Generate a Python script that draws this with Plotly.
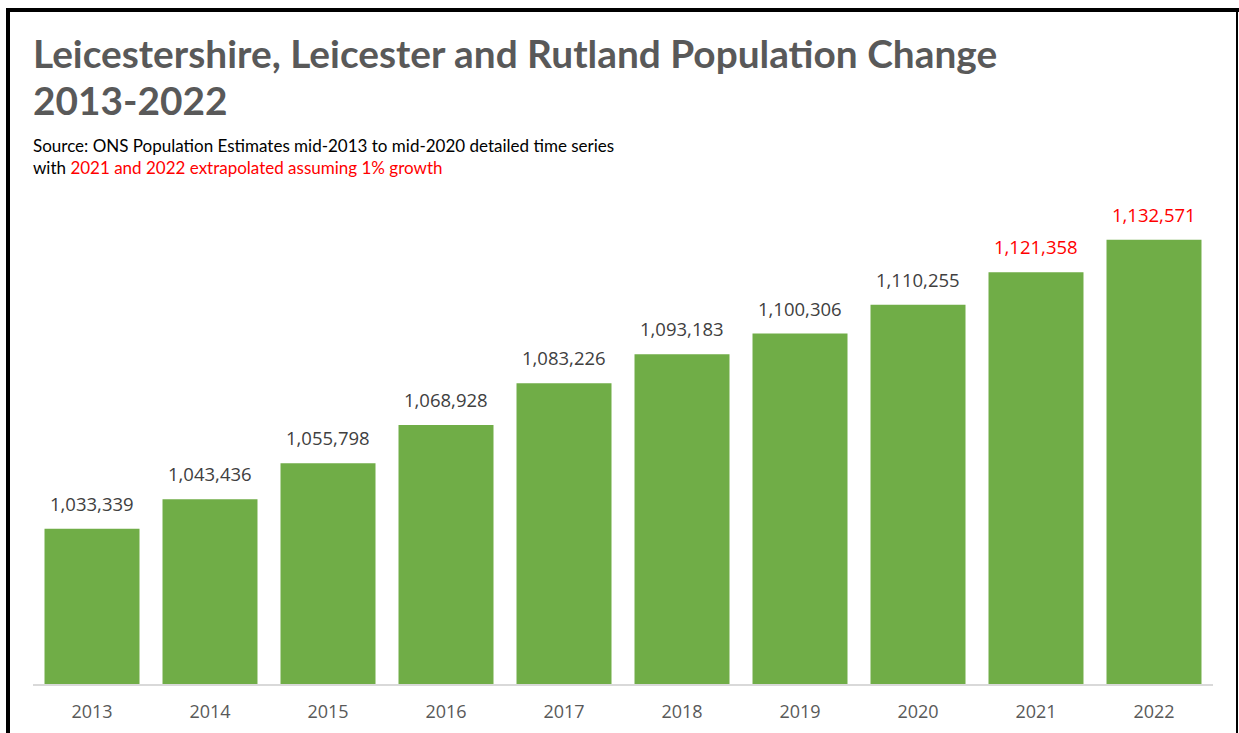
import plotly.graph_objects as go

years = ["2013", "2014", "2015", "2016", "2017", "2018", "2019", "2020", "2021", "2022"]
population = [1033339, 1043436, 1055798, 1068928, 1083226, 1093183, 1100306, 1110255, 1121358, 1132571]
label_colors = ["#404040"] * 8 + ["#FF0000"] * 2

W, H = 1239, 733
x0, x1 = 33, 1213
y_base, y_top = 684, 218

fig = go.Figure()
fig.add_trace(go.Bar(
    x=years, y=population,
    marker=dict(color="#70AD47", line=dict(width=0)),
    hoverinfo="x+y",
))

for i, (v, c) in enumerate(zip(population, label_colors)):
    fig.add_annotation(
        x=i, y=v, text=f"{v:,}", showarrow=False,
        yanchor="bottom", yshift=11,
        font=dict(family="Open Sans", size=18.5, color=c),
    )

# Title (two lines) and subtitle
title_font = dict(family="Lato", size=38.8, color="#595959", weight="bold")
fig.add_annotation(
    xref="paper", yref="paper", x=31 / W, y=1 - 28 / H, xanchor="left", yanchor="top",
    text="Leicestershire, Leicester and Rutland Population Change",
    showarrow=False, align="left", font=title_font,
)
fig.add_annotation(
    xref="paper", yref="paper", x=31 / W, y=1 - 75 / H, xanchor="left", yanchor="top",
    text="2013-2022",
    showarrow=False, align="left", font=title_font,
)
fig.add_annotation(
    xref="paper", yref="paper", x=31 / W, y=1 - 133 / H, xanchor="left", yanchor="top",
    text="Source: ONS Population Estimates mid-2013 to mid-2020 detailed time series<br>"
         "with <span style='color:#FF0000'>2021 and 2022 extrapolated assuming 1% growth</span>",
    showarrow=False, align="left",
    font=dict(family="Lato", size=17, color="#000000"),
)

# Frame border
shapes = [
    dict(type="rect", xref="paper", yref="paper", x0=6 / W, x1=1239 / W, y0=1 - 8 / H, y1=1 - 12 / H,
         fillcolor="black", line=dict(width=0)),
    dict(type="rect", xref="paper", yref="paper", x0=6 / W, x1=10 / W, y0=0, y1=1 - 8 / H,
         fillcolor="black", line=dict(width=0)),
    dict(type="rect", xref="paper", yref="paper", x0=1236 / W, x1=1238 / W, y0=0, y1=1 - 8 / H,
         fillcolor="black", line=dict(width=0)),
]

fig.update_layout(
    width=W, height=H,
    margin=dict(l=0, r=0, t=0, b=0, autoexpand=False),
    paper_bgcolor="white", plot_bgcolor="white",
    bargap=0.195,
    showlegend=False,
    shapes=shapes,
    xaxis=dict(
        type="category", automargin=False, range=[-0.5, 9.5],
        domain=[x0 / W, x1 / W],
        showline=True, linecolor="#D9D9D9", linewidth=1.5,
        showgrid=False, ticks="", ticklabelstandoff=11,
        tickfont=dict(family="Open Sans", size=18, color="#595959"),
    ),
    yaxis=dict(
        automargin=False,
        domain=[(H - y_base) / H, (H - y_top) / H],
        range=[980000, 1140000],
        visible=False, showgrid=False, zeroline=False,
    ),
)

fig.write_html("out.html", config={"displayModeBar": False},
               post_script="document.body.style.margin='0';document.body.style.overflow='hidden';")
